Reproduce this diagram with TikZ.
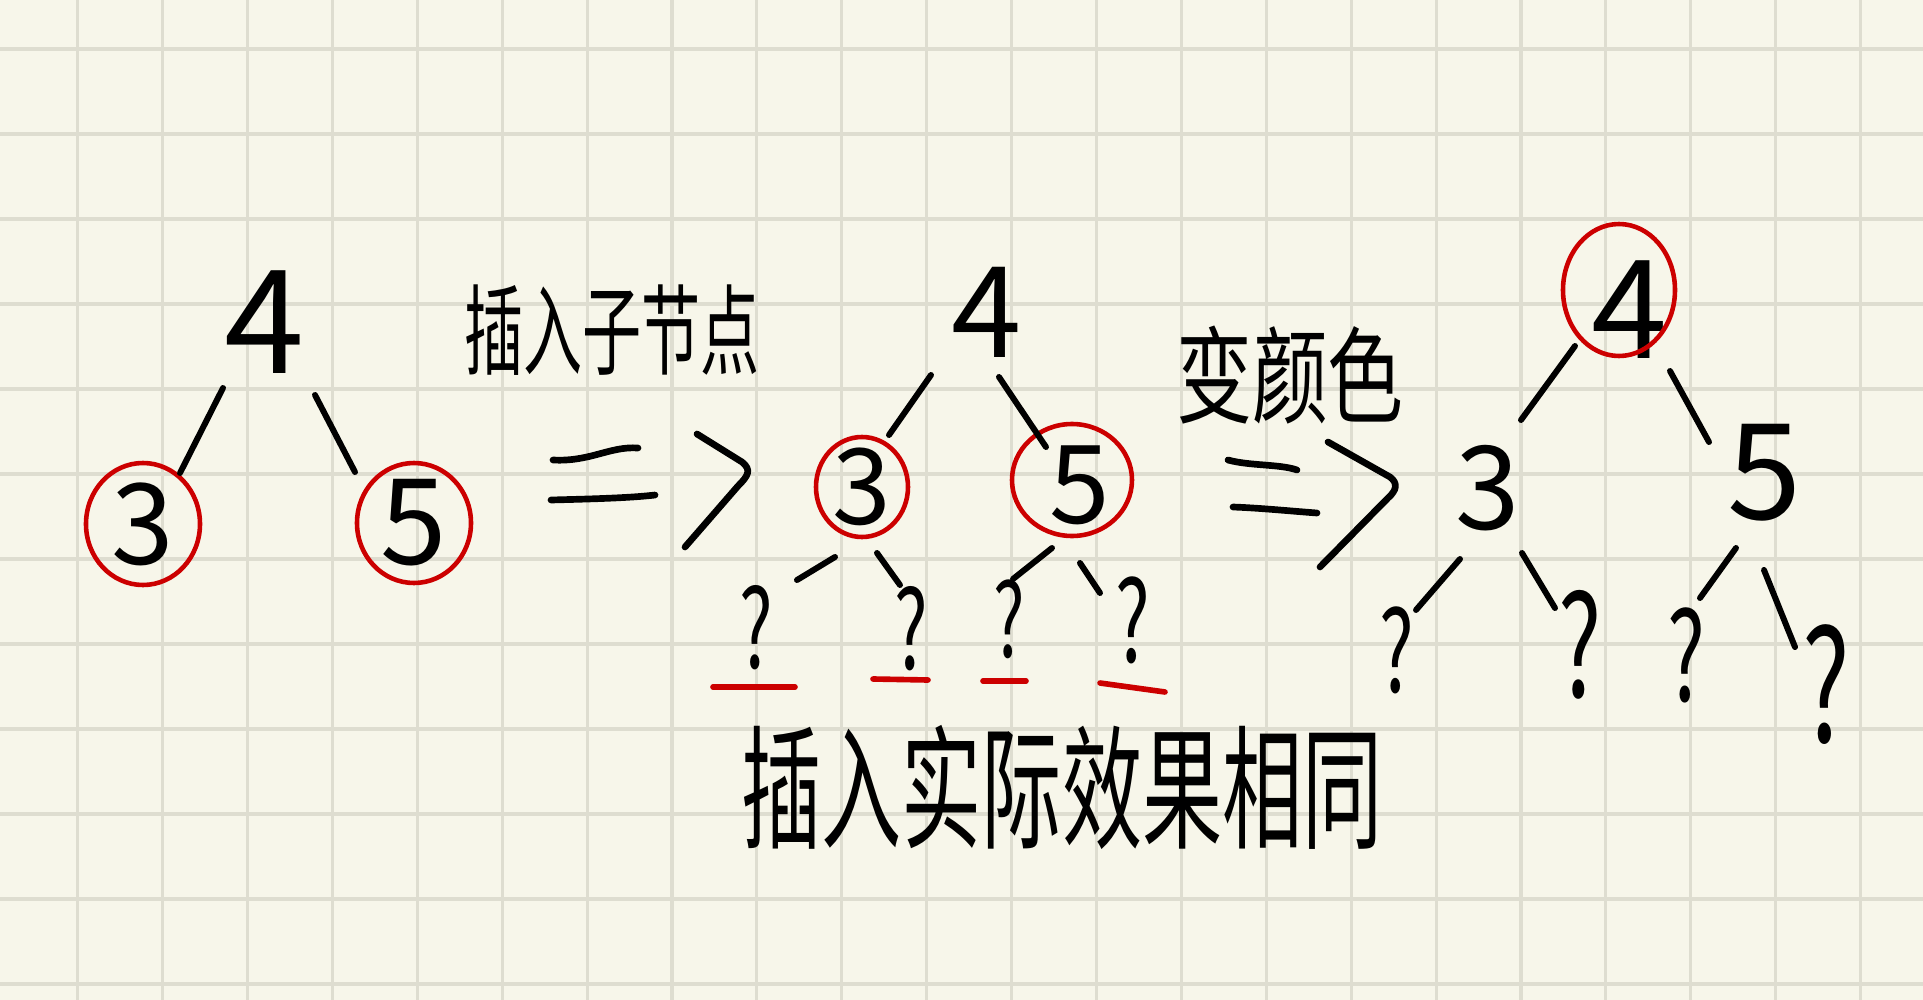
\documentclass[tikz,border=0pt]{standalone}
\usepackage{fontspec}
\newfontfamily\hand{Noto Sans CJK SC}
\newcommand{\handsize}[1]{\hand\fontsize{#1}{#1}\selectfont}
\newcommand{\qm}{\scalebox{0.65}[1]{?}}
\usetikzlibrary{shapes.geometric}
\definecolor{paper}{HTML}{F7F6EA}
\definecolor{gridc}{HTML}{DEDDD0}
\definecolor{inkred}{HTML}{CC0000}

\begin{document}
\begin{tikzpicture}[x=0.01cm, y=-0.01cm]
    \tikzstyle{edge} = [line width=1.7pt, line cap=round]
    \tikzstyle{sign} = [line width=1.9pt, line cap=round, line join=round]
    \tikzstyle{num} = [inner sep=0pt]
    \tikzstyle{redring} = [draw=inkred, line width=1.3pt]
    \tikzstyle{under} = [draw=inkred, line width=1.6pt, line cap=round]
    \tikzstyle{gridl} = [draw=gridc, line width=0.9pt]

    % paper
    \useasboundingbox (0,0) rectangle (1923,1000);
    \fill[paper] (0,0) rectangle (1923,1000);
    \foreach \i in {0,...,21} \draw[gridl] ({77.7+84.9*\i},0) -- ({77.7+84.9*\i},1000);
    \foreach \j in {0,...,11} \draw[gridl] (0,{49+85*\j}) -- (1923,{49+85*\j});

    % left tree
    \node[num, font=\handsize{41pt}] (l4) at (265,322) {4};
    \node[num, font=\handsize{32pt}] (l3) at (143,524) {3};
    \node[num, font=\handsize{34pt}] (l5) at (414,523) {5};
    \draw[redring] (l3.center) ellipse [x radius=57, y radius=61];
    \draw[redring] (l5.center) ellipse [x radius=57, y radius=60];
    \draw[edge] ([shift={(-42,66)}]l4.center) -- ([shift={(37,-51)}]l3.center);
    \draw[edge] ([shift={(50,73)}]l4.center) -- ([shift={(-59,-51)}]l5.center);

    \node[font=\handsize{28pt}] (ins) at (612,330) {\scalebox{0.6}[1]{插入子节点}};
    \draw[sign] (553,460) .. controls (590,462) and (610,446) .. (638,448);
    \draw[sign] (551,500) .. controls (590,499) and (630,498) .. (655,495);
    \draw[sign] (697,434) -- (742,462) .. controls (752,470) and (748,476) .. (738,486) -- (685,547);

    % middle tree
    \node[num, font=\handsize{36pt}] (m4) at (987,312) {4};
    \node[num, font=\handsize{30pt}] (m3) at (862,487) {3};
    \node[num, font=\handsize{31pt}] (m5) at (1080,485) {5};
    \draw[redring] (m3.center) ellipse [x radius=46, y radius=50];
    \draw[redring] ([shift={(-8,-5)}]m5.center) ellipse [x radius=60, y radius=56];
    \draw[edge] ([shift={(-56,63)}]m4.center) -- ([shift={(27,-52)}]m3.center);
    \draw[edge] ([shift={(12,65)}]m4.center) -- ([shift={(-34,-38)}]m5.center);

    \node[num, font=\handsize{31pt}] (mq1) at (756,628) {\qm};
    \node[num, font=\handsize{31pt}] (mq2) at (911,629) {\qm};
    \node[num, font=\handsize{29pt}] (mq3) at (1009,619) {\qm};
    \node[num, font=\handsize{32pt}] (mq4) at (1133,620) {\qm};
    \draw[edge] ([shift={(-27,70)}]m3.center) -- ([shift={(41,-48)}]mq1.center);
    \draw[edge] ([shift={(15,66)}]m3.center) -- ([shift={(-11,-44)}]mq2.center);
    \draw[edge] ([shift={(-28,63)}]m5.center) -- ([shift={(4,-40)}]mq3.center);
    \draw[edge] ([shift={(0,78)}]m5.center) -- ([shift={(-33,-27)}]mq4.center);
    \draw[under] ([shift={(-43,59)}]mq1.center) -- ([shift={(39,59)}]mq1.center);
    \draw[under] ([shift={(-38,50)}]mq2.center) -- ([shift={(17,51)}]mq2.center);
    \draw[under] ([shift={(-26,62)}]mq3.center) -- ([shift={(17,62)}]mq3.center);
    \draw[under] ([shift={(-33,63)}]mq4.center) -- ([shift={(32,72)}]mq4.center);

    \node[font=\handsize{30pt}] (recol) at (1290,375) {\scalebox{0.72}[1]{变颜色}};
    \draw[sign] (1228,460) .. controls (1250,466) and (1280,464) .. (1297,470);
    \draw[sign] (1233,507) .. controls (1260,508) and (1290,511) .. (1317,513);
    \draw[sign] (1328,442) -- (1390,477) .. controls (1398,483) and (1397,490) .. (1388,498) -- (1320,567);

    % right tree
    \node[num, font=\handsize{39pt}] (r4) at (1630,310) {4};
    \node[num, font=\handsize{33pt}] (r3) at (1488,488) {3};
    \node[num, font=\handsize{38pt}] (r5) at (1765,473) {5};
    \draw[redring] ([shift={(-11,-20)}]r4.center) ellipse [x radius=56, y radius=66];
    \draw[edge] ([shift={(-55,36)}]r4.center) -- ([shift={(33,-68)}]r3.center);
    \draw[edge] ([shift={(40,61)}]r4.center) -- ([shift={(-56,-31)}]r5.center);

    \node[num, font=\handsize{32pt}] (rq1) at (1397,650) {\qm};
    \node[num, font=\handsize{40pt}] (rq2) at (1580,645) {\qm};
    \node[num, font=\handsize{35pt}] (rq3) at (1686,655) {\qm};
    \node[num, font=\handsize{44pt}] (rq4) at (1826,685) {\qm};
    \draw[edge] ([shift={(-28,71)}]r3.center) -- ([shift={(19,-40)}]rq1.center);
    \draw[edge] ([shift={(34,65)}]r3.center) -- ([shift={(-25,-37)}]rq2.center);
    \draw[edge] ([shift={(-29,75)}]r5.center) -- ([shift={(14,-57)}]rq3.center);
    \draw[edge] ([shift={(-1,97)}]r5.center) -- ([shift={(-31,-38)}]rq4.center);

    \node[font=\handsize{38pt}] (same) at (1062,787) {\scalebox{0.6}[1]{插入实际效果相同}};
\end{tikzpicture}
\end{document}
